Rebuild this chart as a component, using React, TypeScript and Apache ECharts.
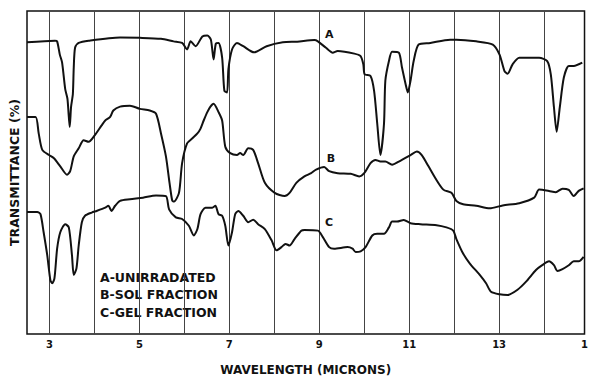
import React, { useEffect, useRef } from 'react';
import * as echarts from 'echarts';

const GRID_LINES = [3, 4, 5, 6, 7, 8, 9, 10, 11, 12, 13, 14];
const TICK_VALUES = [3, 5, 7, 9, 11, 13];
const LEGEND_LINES = ['A-UNIRRADATED', 'B-SOL FRACTION', 'C-GEL FRACTION'];

const A_WL = [2.5, 3.12, 3.17, 3.23, 3.28, 3.35, 3.40, 3.45, 3.48, 3.52, 3.54, 3.57, 3.65, 3.87, 4.57, 5.01, 5.48, 5.76, 5.95, 6.06, 6.14, 6.25, 6.40, 6.51, 6.59, 6.65, 6.70, 6.76, 6.84, 6.89, 6.95, 6.98, 7.06, 7.17, 7.31, 7.55, 7.83, 8.19, 8.51, 8.89, 8.97, 9.15, 9.30, 9.41, 9.78, 9.92, 9.98, 10.01, 10.14, 10.22, 10.29, 10.36, 10.44, 10.47, 10.55, 10.62, 10.77, 10.84, 10.92, 10.97, 11.03, 11.10, 11.21, 11.47, 11.91, 12.05, 12.49, 12.86, 13.01, 13.12, 13.19, 13.30, 13.45, 13.89, 14.07, 14.15, 14.22, 14.28, 14.35, 14.44, 14.55, 14.66, 14.85];
const A_T = [90.3, 90.8, 90.6, 86.5, 84.1, 75.8, 72.8, 64.1, 70.3, 74.3, 82.6, 88.7, 90.1, 90.8, 91.8, 91.7, 91.4, 90.6, 90.1, 88.1, 90.6, 89.1, 92.1, 92.4, 91.1, 85.0, 89.9, 90.1, 85.6, 75.3, 74.8, 82.0, 88.1, 90.1, 89.1, 87.2, 89.1, 90.3, 90.5, 91.0, 90.6, 88.6, 87.1, 87.6, 86.8, 86.0, 83.5, 80.4, 79.9, 75.3, 65.1, 55.4, 65.1, 78.4, 84.5, 87.4, 87.1, 82.5, 77.4, 74.8, 78.4, 84.5, 89.6, 90.1, 91.1, 91.1, 90.6, 89.6, 86.5, 81.4, 80.6, 83.5, 85.5, 85.5, 84.5, 80.4, 70.2, 62.6, 70.2, 79.4, 83.0, 83.0, 84.0];

const B_WL = [2.5, 2.69, 2.76, 2.84, 2.99, 3.10, 3.24, 3.39, 3.46, 3.54, 3.65, 3.76, 3.87, 4.01, 4.16, 4.24, 4.35, 4.42, 4.57, 4.79, 5.01, 5.23, 5.37, 5.48, 5.59, 5.67, 5.73, 5.77, 5.88, 5.95, 6.06, 6.18, 6.29, 6.36, 6.43, 6.51, 6.58, 6.65, 6.76, 6.84, 6.91, 7.02, 7.17, 7.24, 7.31, 7.42, 7.53, 7.64, 7.79, 8.01, 8.23, 8.34, 8.49, 8.67, 8.82, 8.93, 9.11, 9.22, 9.41, 9.70, 9.89, 10.00, 10.14, 10.25, 10.36, 10.47, 10.62, 10.77, 11.03, 11.17, 11.28, 11.43, 11.58, 11.76, 11.94, 12.05, 12.20, 12.49, 12.79, 13.08, 13.45, 13.78, 13.89, 14.11, 14.26, 14.41, 14.55, 14.66, 14.77, 14.88];
const B_T = [67.2, 67.2, 62.1, 57.0, 55.4, 54.4, 51.9, 49.3, 50.4, 55.0, 57.5, 60.0, 59.5, 61.6, 64.6, 66.1, 67.2, 69.2, 70.4, 70.7, 69.7, 69.2, 68.2, 62.1, 55.0, 46.8, 41.3, 41.0, 43.7, 52.9, 59.0, 60.6, 62.1, 63.6, 66.1, 68.7, 70.4, 71.3, 68.7, 66.1, 58.0, 56.0, 55.4, 56.0, 55.4, 57.5, 57.0, 52.9, 46.8, 43.7, 42.7, 43.7, 46.8, 48.8, 49.8, 50.9, 51.7, 50.4, 49.8, 49.6, 48.8, 49.8, 52.9, 53.9, 53.4, 53.4, 52.4, 53.4, 55.4, 56.5, 55.4, 51.9, 48.3, 44.7, 43.7, 41.2, 40.2, 39.7, 38.9, 39.8, 40.5, 42.2, 44.7, 44.3, 43.9, 45.0, 44.6, 42.7, 44.3, 45.1];

const C_WL = [2.5, 2.73, 2.80, 2.87, 2.95, 3.02, 3.06, 3.11, 3.17, 3.24, 3.35, 3.43, 3.50, 3.54, 3.60, 3.65, 3.72, 3.79, 3.94, 4.05, 4.24, 4.31, 4.38, 4.46, 4.57, 4.79, 5.08, 5.37, 5.59, 5.66, 5.81, 5.95, 6.10, 6.21, 6.29, 6.36, 6.47, 6.62, 6.69, 6.76, 6.84, 6.91, 6.98, 7.06, 7.13, 7.20, 7.31, 7.42, 7.53, 7.64, 7.79, 7.94, 8.05, 8.16, 8.25, 8.34, 8.45, 8.60, 8.67, 8.97, 9.08, 9.22, 9.33, 9.63, 9.74, 9.81, 9.92, 10.03, 10.18, 10.29, 10.44, 10.55, 10.62, 10.73, 10.88, 11.03, 11.25, 11.61, 11.83, 11.98, 12.05, 12.20, 12.35, 12.57, 12.71, 12.82, 13.01, 13.19, 13.41, 13.60, 13.82, 13.96, 14.11, 14.22, 14.30, 14.41, 14.55, 14.66, 14.77, 14.88];
const C_T = [37.8, 37.8, 37.1, 31.5, 24.4, 16.7, 15.7, 17.2, 26.4, 31.5, 34.0, 33.0, 24.4, 18.3, 20.3, 27.4, 34.6, 36.6, 37.6, 38.1, 39.1, 39.7, 38.1, 39.7, 41.2, 41.7, 42.2, 42.9, 42.7, 38.6, 36.1, 35.6, 33.5, 30.5, 32.5, 37.1, 39.1, 39.1, 39.7, 37.1, 36.6, 33.5, 27.4, 31.5, 37.1, 38.1, 36.6, 34.6, 35.4, 34.0, 32.5, 29.0, 25.9, 26.9, 27.9, 27.4, 29.4, 32.0, 32.2, 32.0, 30.0, 26.9, 26.4, 26.9, 26.4, 25.4, 25.6, 26.9, 30.5, 31.0, 31.0, 33.0, 34.8, 34.8, 35.3, 34.3, 34.0, 33.7, 33.0, 32.0, 29.4, 24.9, 21.8, 18.3, 15.7, 13.1, 12.3, 12.1, 13.7, 16.2, 19.8, 21.3, 22.5, 21.3, 19.5, 20.1, 21.3, 22.5, 22.5, 23.9];

const CURVE_LABELS = [
  { name: 'A', wl: 9.22, t: 92.7 },
  { name: 'B', wl: 9.26, t: 54.4 },
  { name: 'C', wl: 9.22, t: 34.6 },
];

const FONT = 'DejaVu Sans';
const INK = '#111';

function zip(xs: number[], ys: number[]) {
  const n = Math.min(xs.length, ys.length);
  const out: number[][] = [];
  for (let i = 0; i < n; i++) out.push([xs[i], ys[i]]);
  return out;
}

function makeSeries(idx: number, wl: number[], t: number[]) {
  const lab = CURVE_LABELS[idx];
  const s: any = {
    type: 'line',
    name: lab.name,
    data: zip(wl, t),
    showSymbol: false,
    smooth: 0.25,
    lineStyle: { color: INK, width: 2 },
    z: 3,
    markPoint: {
      silent: true,
      symbol: 'circle',
      symbolSize: 1,
      itemStyle: { color: 'rgba(0,0,0,0)' },
      label: {
        show: true,
        position: 'inside',
        formatter: lab.name,
        color: INK,
        fontFamily: FONT,
        fontWeight: 'bold',
        fontSize: 11,
      },
      data: [{ coord: [lab.wl, lab.t] }],
    },
  };
  if (idx === 0) {
    s.markLine = {
      silent: true,
      symbol: ['none', 'none'],
      label: { show: false },
      lineStyle: { color: '#444', width: 1, type: 'solid' },
      data: GRID_LINES.map((v) => ({ xAxis: v })),
      z: 1,
    };
  }
  return s;
}

export default function App() {
  const ref = useRef<HTMLDivElement>(null);
  useEffect(() => {
    if (!ref.current) return;
    const chart = echarts.init(ref.current, null, { renderer: 'svg' });
    chart.setOption({
      animation: false,
      backgroundColor: '#fff',
      grid: {
        left: 25,
        right: 3.5,
        top: 11,
        bottom: 43,
        show: true,
        borderColor: INK,
        borderWidth: 1.5,
      },
      xAxis: {
        type: 'value',
        min: 2.5,
        max: 14.9,
        axisLine: { show: false },
        axisTick: { show: false },
        splitLine: { show: false },
        axisLabel: {
          customValues: [...TICK_VALUES, 14.9],
          formatter: (v: number) => (v === 14.9 ? '1' : String(v)),
          color: INK,
          fontFamily: FONT,
          fontWeight: 'bold',
          fontSize: 10,
          margin: 5,
        },
        name: 'WAVELENGTH (MICRONS)',
        nameLocation: 'middle',
        nameGap: 30,
        nameTextStyle: { color: INK, fontFamily: FONT, fontWeight: 'bold', fontSize: 12 },
      },
      yAxis: {
        type: 'value',
        min: 0,
        max: 100,
        axisLine: { show: false },
        axisTick: { show: false },
        splitLine: { show: false },
        axisLabel: { show: false },
        name: 'TRANSMITTANCE (%)',
        nameLocation: 'middle',
        nameGap: 6,
        nameRotate: 90,
        nameTextStyle: { color: INK, fontFamily: FONT, fontWeight: 'bold', fontSize: 12.5 },
      },
      graphic: [
        {
          type: 'text',
          left: 100,
          top: 269,
          silent: true,
          style: {
            text: LEGEND_LINES.join('\n'),
            fill: INK,
            font: `bold 12.5px "${FONT}"`,
            lineHeight: 17.2,
          },
        },
      ],
      series: [
        makeSeries(0, A_WL, A_T),
        makeSeries(1, B_WL, B_T),
        makeSeries(2, C_WL, C_T),
      ],
    });
    return () => chart.dispose();
  }, []);
  return (
    <div
      ref={ref}
      style={{ position: 'absolute', left: 0, top: 0, width: 591, height: 381, background: '#fff' }}
    />
  );
}
